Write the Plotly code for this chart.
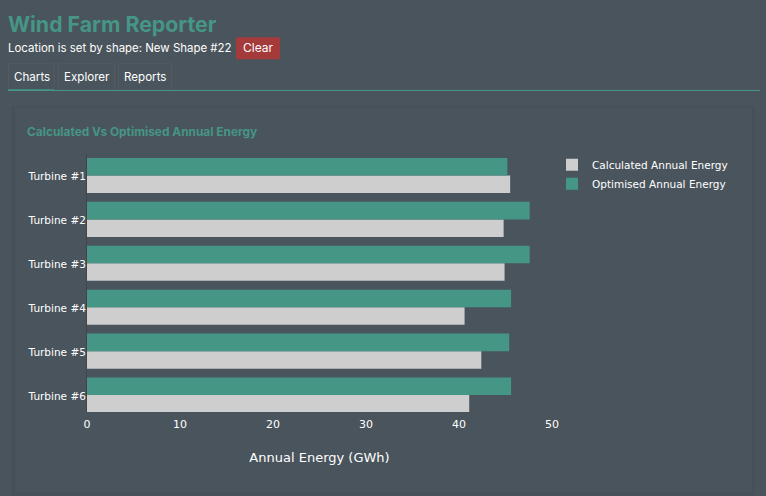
import plotly.graph_objects as go

W, H = 766, 496
BG = "#4a545c"
TEAL = "#459684"
GREY = "#cecece"
UI_FONT = "Inter"
CHART_FONT = "DejaVu Sans"

turbines = ["Turbine #1", "Turbine #2", "Turbine #3", "Turbine #4", "Turbine #5", "Turbine #6"]
calculated = [45.5, 44.8, 44.9, 40.6, 42.4, 41.1]
optimised = [45.2, 47.6, 47.6, 45.6, 45.4, 45.6]
tab_names = ["Charts", "Explorer", "Reports"]

# plot area in page pixels
left, right, top, bottom = 87, 552, 154, 412.5


def px(x):
    return (x - left) / (right - left)


def py(y):
    return (bottom - y) / (bottom - top)


def rect(x0, y0, x1, y1, fill, line=None):
    return dict(type="rect", xref="paper", yref="paper", layer="below",
                x0=px(x0), x1=px(x1), y0=py(y0), y1=py(y1), fillcolor=fill,
                line=dict(color=line or fill, width=1 if line else 0))


def label(x, y, text, size=12, color="white", family=UI_FONT, anchor="left"):
    return dict(xref="paper", yref="paper", x=px(x), y=py(y), text=text, showarrow=False,
                xanchor=anchor, yanchor="middle", borderpad=0,
                font=dict(family=family, size=size, color=color))


fig = go.Figure()
fig.add_trace(go.Bar(y=turbines, x=calculated, name="Calculated Annual Energy",
                     orientation="h", marker=dict(color=GREY, line_width=0)))
fig.add_trace(go.Bar(y=turbines, x=optimised, name="Optimised Annual Energy",
                     orientation="h", marker=dict(color=TEAL, line_width=0)))

shapes = [
    # card behind the chart
    rect(12, 106, 755, 496, "#465058"),
    rect(15, 108, 752, 493, BG),
    # clear button
    rect(236, 37, 280, 59, "#a53a3a"),
    # tabs
    rect(8.5, 63.5, 54, 90, BG, "#565a5c"),
    rect(58.5, 63.5, 114.5, 90, BG, "#565a5c"),
    rect(118.5, 63.5, 171.5, 90, BG, "#565a5c"),
    rect(8, 90, 760, 91, TEAL),
    rect(8, 89, 54, 91, TEAL),
]

annotations = [
    label(7, 24, "<b>Wind Farm Reporter</b>", size=21.3, color=TEAL),
    label(7, 48, "Location is set by shape: New Shape #22", size=11.45),
    label(258, 47.5, "Clear", size=12, anchor="center"),
    label(31.5, 76.5, tab_names[0], size=11.6, anchor="center"),
    label(86.5, 76.5, tab_names[1], size=11.6, anchor="center"),
    label(145, 76.5, tab_names[2], size=11.6, anchor="center"),
    label(26, 131.5, "<b>Calculated Vs Optimised Annual Energy</b>", size=11.9, color=TEAL),
]

fig.update_layout(
    width=W, height=H, autosize=False,
    margin=dict(l=left, r=W - right, t=top, b=H - bottom, pad=0),
    paper_bgcolor=BG, plot_bgcolor=BG,
    font=dict(family=CHART_FONT, size=11, color="white"),
    barmode="group", bargap=0.2, bargroupgap=0,
    shapes=shapes, annotations=annotations,
    legend=dict(x=1.0, y=1.015, xanchor="left", yanchor="top", traceorder="normal",
                bgcolor="rgba(0,0,0,0)", font=dict(size=10.5, color="white")),
    xaxis=dict(range=[0, 50], dtick=10, showgrid=False, zeroline=False, ticks="",
               ticklabelstandoff=4,
               title=dict(text="Annual Energy (GWh)", font=dict(size=13), standoff=22)),
    yaxis=dict(categoryorder="array", categoryarray=turbines[::-1], showgrid=False,
               range=[-0.386, 5.489], tickfont=dict(size=10.5), ticklabelstandoff=-2,
               ticklabelshift=1,
               zeroline=False, ticks="", showline=True, linecolor="#444444", linewidth=1),
)

fig.write_html("out.html", config=dict(displayModeBar=False),
               post_script="document.body.style.margin='0';document.body.style.overflow='hidden';")
